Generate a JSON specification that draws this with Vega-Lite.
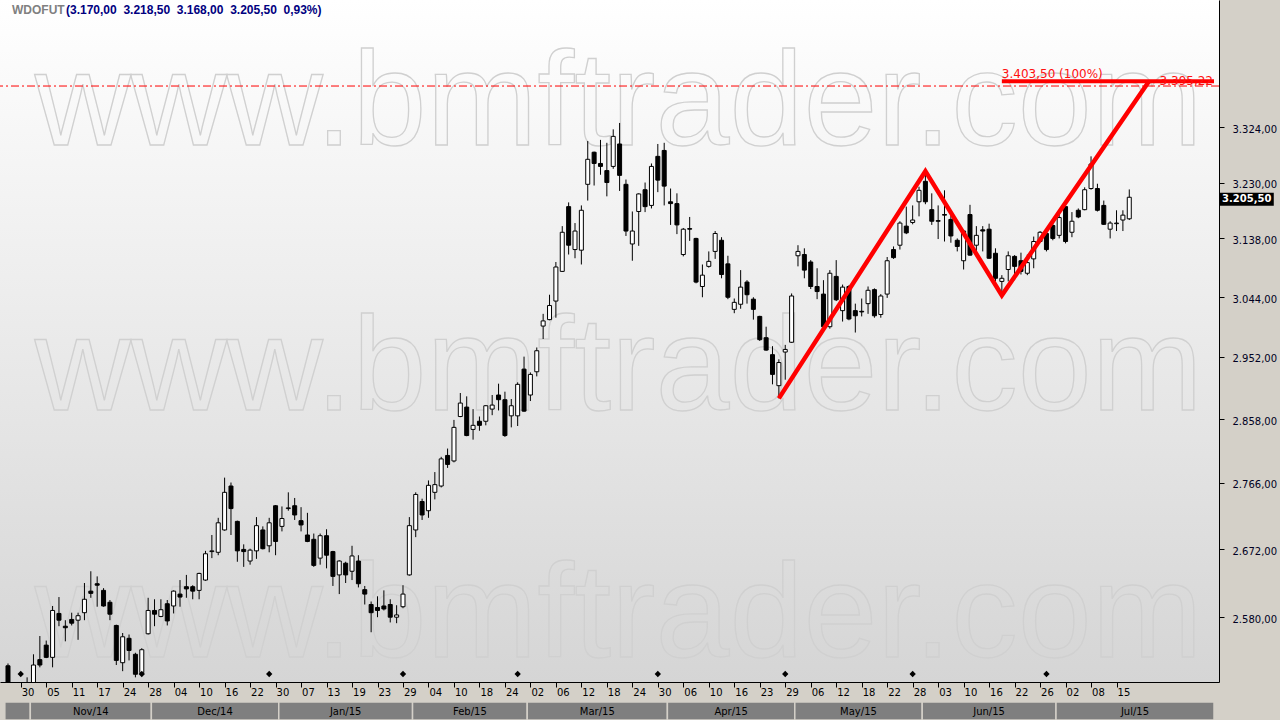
{
"$schema": "https://vega.github.io/schema/vega-lite/v6.json",
"width": 1219, "height": 682,
"autosize": {"type": "none"},
"padding": {"left": 0, "top": 0, "right": 61, "bottom": 38},
"background": "#d4d0c8",
"config": {"view": {"stroke": null}, "locale": {"number": {"decimal": ",", "thousands": ".", "grouping": [3], "currency": ["R$", ""]}}},
"resolve": {"axis": {"x": "independent", "y": "independent"}},
"datasets": {
"candles": [
{"i":0,"d":"2014-10-28","o":2516,"h":2519,"l":2478,"c":2485},
{"i":1,"d":"2014-10-29","o":2480,"h":2488,"l":2455,"c":2462},
{"i":2,"d":"2014-10-30","o":2462,"h":2475,"l":2440,"c":2452,"ev":1},
{"i":3,"d":"2014-10-31","o":2460,"h":2501,"l":2455,"c":2488},
{"i":4,"d":"2014-11-03","o":2488,"h":2531,"l":2482,"c":2517},
{"i":5,"d":"2014-11-04","o":2524,"h":2555,"l":2514,"c":2517},
{"i":6,"d":"2014-11-05","o":2543,"h":2549,"l":2526,"c":2527},
{"i":7,"d":"2014-11-06","o":2527,"h":2595,"l":2514,"c":2589},
{"i":8,"d":"2014-11-07","o":2585,"h":2607,"l":2568,"c":2576},
{"i":9,"d":"2014-11-10","o":2568,"h":2576,"l":2548,"c":2566},
{"i":10,"d":"2014-11-11","o":2577,"h":2586,"l":2569,"c":2572},
{"i":11,"d":"2014-11-12","o":2576,"h":2586,"l":2550,"c":2582},
{"i":12,"d":"2014-11-13","o":2586,"h":2626,"l":2576,"c":2604},
{"i":13,"d":"2014-11-14","o":2615,"h":2642,"l":2606,"c":2612},
{"i":14,"d":"2014-11-17","o":2625,"h":2635,"l":2594,"c":2623},
{"i":15,"d":"2014-11-18","o":2616,"h":2619,"l":2594,"c":2595},
{"i":16,"d":"2014-11-19","o":2600,"h":2603,"l":2576,"c":2584},
{"i":17,"d":"2014-11-21","o":2569,"h":2570,"l":2517,"c":2523},
{"i":18,"d":"2014-11-24","o":2520,"h":2559,"l":2509,"c":2554},
{"i":19,"d":"2014-11-25","o":2552,"h":2557,"l":2523,"c":2536},
{"i":20,"d":"2014-11-26","o":2531,"h":2533,"l":2501,"c":2505},
{"i":21,"d":"2014-11-27","o":2507,"h":2539,"l":2503,"c":2537,"ev":1},
{"i":22,"d":"2014-11-28","o":2558,"h":2606,"l":2557,"c":2589},
{"i":23,"d":"2014-12-01","o":2589,"h":2604,"l":2568,"c":2584},
{"i":24,"d":"2014-12-02","o":2581,"h":2604,"l":2580,"c":2590},
{"i":25,"d":"2014-12-03","o":2598,"h":2603,"l":2569,"c":2575},
{"i":26,"d":"2014-12-04","o":2595,"h":2616,"l":2585,"c":2615},
{"i":27,"d":"2014-12-05","o":2611,"h":2630,"l":2594,"c":2607},
{"i":28,"d":"2014-12-08","o":2621,"h":2637,"l":2606,"c":2618},
{"i":29,"d":"2014-12-09","o":2621,"h":2623,"l":2604,"c":2615},
{"i":30,"d":"2014-12-10","o":2616,"h":2640,"l":2604,"c":2639},
{"i":31,"d":"2014-12-11","o":2630,"h":2670,"l":2629,"c":2666},
{"i":32,"d":"2014-12-12","o":2669,"h":2692,"l":2660,"c":2670},
{"i":33,"d":"2014-12-15","o":2668,"h":2716,"l":2664,"c":2709},
{"i":34,"d":"2014-12-16","o":2699,"h":2773,"l":2698,"c":2752},
{"i":35,"d":"2014-12-17","o":2761,"h":2766,"l":2692,"c":2729},
{"i":36,"d":"2014-12-18","o":2711,"h":2712,"l":2655,"c":2670},
{"i":37,"d":"2014-12-19","o":2672,"h":2679,"l":2648,"c":2669},
{"i":38,"d":"2014-12-22","o":2656,"h":2673,"l":2651,"c":2671},
{"i":39,"d":"2014-12-23","o":2670,"h":2717,"l":2659,"c":2705},
{"i":40,"d":"2014-12-26","o":2699,"h":2704,"l":2672,"c":2673},
{"i":41,"d":"2014-12-29","o":2677,"h":2716,"l":2668,"c":2709,"ev":1},
{"i":42,"d":"2014-12-30","o":2733,"h":2734,"l":2664,"c":2683},
{"i":43,"d":"2015-01-02","o":2704,"h":2732,"l":2697,"c":2715},
{"i":44,"d":"2015-01-05","o":2729,"h":2752,"l":2726,"c":2730},
{"i":45,"d":"2015-01-06","o":2733,"h":2744,"l":2713,"c":2720},
{"i":46,"d":"2015-01-07","o":2712,"h":2731,"l":2697,"c":2706},
{"i":47,"d":"2015-01-08","o":2692,"h":2723,"l":2682,"c":2683},
{"i":48,"d":"2015-01-09","o":2686,"h":2694,"l":2648,"c":2650},
{"i":49,"d":"2015-01-12","o":2660,"h":2694,"l":2651,"c":2691},
{"i":50,"d":"2015-01-13","o":2691,"h":2700,"l":2646,"c":2664},
{"i":51,"d":"2015-01-14","o":2669,"h":2670,"l":2622,"c":2635},
{"i":52,"d":"2015-01-15","o":2637,"h":2657,"l":2611,"c":2656},
{"i":53,"d":"2015-01-16","o":2653,"h":2655,"l":2626,"c":2637},
{"i":54,"d":"2015-01-19","o":2642,"h":2677,"l":2630,"c":2663},
{"i":55,"d":"2015-01-20","o":2656,"h":2664,"l":2620,"c":2625},
{"i":56,"d":"2015-01-21","o":2617,"h":2622,"l":2597,"c":2611},
{"i":57,"d":"2015-01-22","o":2597,"h":2601,"l":2560,"c":2586},
{"i":58,"d":"2015-01-23","o":2593,"h":2608,"l":2580,"c":2589},
{"i":59,"d":"2015-01-26","o":2595,"h":2616,"l":2589,"c":2591},
{"i":60,"d":"2015-01-27","o":2597,"h":2604,"l":2573,"c":2580},
{"i":61,"d":"2015-01-28","o":2580,"h":2596,"l":2572,"c":2583},
{"i":62,"d":"2015-01-29","o":2594,"h":2623,"l":2592,"c":2611,"ev":1},
{"i":63,"d":"2015-01-30","o":2637,"h":2717,"l":2636,"c":2705},
{"i":64,"d":"2015-02-02","o":2699,"h":2752,"l":2689,"c":2749},
{"i":65,"d":"2015-02-03","o":2739,"h":2743,"l":2713,"c":2720},
{"i":66,"d":"2015-02-04","o":2726,"h":2769,"l":2716,"c":2762},
{"i":67,"d":"2015-02-05","o":2752,"h":2781,"l":2742,"c":2763},
{"i":68,"d":"2015-02-06","o":2761,"h":2803,"l":2759,"c":2800},
{"i":69,"d":"2015-02-09","o":2805,"h":2815,"l":2787,"c":2792},
{"i":70,"d":"2015-02-10","o":2797,"h":2857,"l":2795,"c":2846},
{"i":71,"d":"2015-02-11","o":2862,"h":2897,"l":2861,"c":2882},
{"i":72,"d":"2015-02-12","o":2876,"h":2892,"l":2833,"c":2834},
{"i":73,"d":"2015-02-13","o":2843,"h":2873,"l":2828,"c":2849},
{"i":74,"d":"2015-02-18","o":2855,"h":2862,"l":2841,"c":2849},
{"i":75,"d":"2015-02-19","o":2855,"h":2879,"l":2849,"c":2878},
{"i":76,"d":"2015-02-20","o":2873,"h":2894,"l":2864,"c":2879},
{"i":77,"d":"2015-02-23","o":2894,"h":2911,"l":2871,"c":2887},
{"i":78,"d":"2015-02-24","o":2887,"h":2899,"l":2832,"c":2834},
{"i":79,"d":"2015-02-25","o":2863,"h":2888,"l":2846,"c":2878},
{"i":80,"d":"2015-02-26","o":2863,"h":2913,"l":2848,"c":2910,"ev":1},
{"i":81,"d":"2015-02-27","o":2933,"h":2952,"l":2869,"c":2870},
{"i":82,"d":"2015-03-02","o":2894,"h":2928,"l":2885,"c":2925},
{"i":83,"d":"2015-03-03","o":2929,"h":2966,"l":2922,"c":2961},
{"i":84,"d":"2015-03-04","o":2999,"h":3018,"l":2979,"c":3007},
{"i":85,"d":"2015-03-05","o":3009,"h":3048,"l":3008,"c":3031},
{"i":86,"d":"2015-03-06","o":3038,"h":3100,"l":3012,"c":3092},
{"i":87,"d":"2015-03-09","o":3085,"h":3158,"l":3084,"c":3148},
{"i":88,"d":"2015-03-10","o":3190,"h":3197,"l":3112,"c":3127},
{"i":89,"d":"2015-03-11","o":3120,"h":3163,"l":3106,"c":3150},
{"i":90,"d":"2015-03-12","o":3119,"h":3192,"l":3096,"c":3184},
{"i":91,"d":"2015-03-13","o":3227,"h":3300,"l":3200,"c":3269},
{"i":92,"d":"2015-03-16","o":3281,"h":3282,"l":3225,"c":3262},
{"i":93,"d":"2015-03-17","o":3262,"h":3302,"l":3243,"c":3257},
{"i":94,"d":"2015-03-18","o":3250,"h":3297,"l":3207,"c":3230},
{"i":95,"d":"2015-03-19","o":3257,"h":3320,"l":3253,"c":3308},
{"i":96,"d":"2015-03-20","o":3295,"h":3331,"l":3216,"c":3242},
{"i":97,"d":"2015-03-23","o":3227,"h":3235,"l":3142,"c":3150},
{"i":98,"d":"2015-03-24","o":3129,"h":3182,"l":3102,"c":3150},
{"i":99,"d":"2015-03-25","o":3182,"h":3212,"l":3126,"c":3211},
{"i":100,"d":"2015-03-26","o":3218,"h":3230,"l":3181,"c":3190},
{"i":101,"d":"2015-03-27","o":3192,"h":3262,"l":3187,"c":3257},
{"i":102,"d":"2015-03-30","o":3274,"h":3295,"l":3214,"c":3234,"ev":1},
{"i":103,"d":"2015-03-31","o":3284,"h":3297,"l":3192,"c":3224},
{"i":104,"d":"2015-04-01","o":3198,"h":3220,"l":3160,"c":3195},
{"i":105,"d":"2015-04-02","o":3195,"h":3212,"l":3145,"c":3160},
{"i":106,"d":"2015-04-06","o":3112,"h":3155,"l":3109,"c":3153},
{"i":107,"d":"2015-04-07","o":3154,"h":3173,"l":3134,"c":3153},
{"i":108,"d":"2015-04-08","o":3138,"h":3139,"l":3066,"c":3068},
{"i":109,"d":"2015-04-09","o":3061,"h":3096,"l":3044,"c":3079},
{"i":110,"d":"2015-04-10","o":3093,"h":3117,"l":3091,"c":3101},
{"i":111,"d":"2015-04-13","o":3117,"h":3150,"l":3105,"c":3146},
{"i":112,"d":"2015-04-14","o":3135,"h":3140,"l":3074,"c":3080},
{"i":113,"d":"2015-04-15","o":3097,"h":3110,"l":3041,"c":3044},
{"i":114,"d":"2015-04-16","o":3025,"h":3042,"l":3019,"c":3036},
{"i":115,"d":"2015-04-17","o":3033,"h":3087,"l":3026,"c":3060},
{"i":116,"d":"2015-04-20","o":3068,"h":3071,"l":3034,"c":3048},
{"i":117,"d":"2015-04-22","o":3041,"h":3044,"l":3009,"c":3025},
{"i":118,"d":"2015-04-23","o":3014,"h":3015,"l":2976,"c":2978},
{"i":119,"d":"2015-04-24","o":2981,"h":2998,"l":2961,"c":2962},
{"i":120,"d":"2015-04-27","o":2955,"h":2968,"l":2910,"c":2925},
{"i":121,"d":"2015-04-28","o":2908,"h":2948,"l":2889,"c":2943},
{"i":122,"d":"2015-04-29","o":2959,"h":2970,"l":2917,"c":2963,"ev":1},
{"i":123,"d":"2015-04-30","o":2974,"h":3050,"l":2973,"c":3046},
{"i":124,"d":"2015-05-04","o":3110,"h":3127,"l":3093,"c":3117},
{"i":125,"d":"2015-05-05","o":3112,"h":3122,"l":3074,"c":3087},
{"i":126,"d":"2015-05-06","o":3100,"h":3103,"l":3057,"c":3061},
{"i":127,"d":"2015-05-07","o":3061,"h":3090,"l":3041,"c":3053},
{"i":128,"d":"2015-05-08","o":3049,"h":3071,"l":2997,"c":2998},
{"i":129,"d":"2015-05-11","o":2998,"h":3087,"l":2995,"c":3082},
{"i":130,"d":"2015-05-12","o":3077,"h":3103,"l":3038,"c":3040},
{"i":131,"d":"2015-05-13","o":3023,"h":3064,"l":3006,"c":3060},
{"i":132,"d":"2015-05-14","o":3061,"h":3063,"l":3008,"c":3010},
{"i":133,"d":"2015-05-15","o":3023,"h":3034,"l":2989,"c":3015},
{"i":134,"d":"2015-05-18","o":3022,"h":3042,"l":3014,"c":3021},
{"i":135,"d":"2015-05-19","o":3034,"h":3061,"l":3018,"c":3055},
{"i":136,"d":"2015-05-20","o":3056,"h":3058,"l":3012,"c":3015},
{"i":137,"d":"2015-05-21","o":3017,"h":3049,"l":3012,"c":3046},
{"i":138,"d":"2015-05-22","o":3049,"h":3108,"l":3043,"c":3102},
{"i":139,"d":"2015-05-25","o":3120,"h":3125,"l":3105,"c":3107},
{"i":140,"d":"2015-05-26","o":3127,"h":3166,"l":3120,"c":3163},
{"i":141,"d":"2015-05-27","o":3158,"h":3190,"l":3145,"c":3147},
{"i":142,"d":"2015-05-28","o":3164,"h":3192,"l":3161,"c":3168,"ev":1},
{"i":143,"d":"2015-05-29","o":3198,"h":3223,"l":3174,"c":3217},
{"i":144,"d":"2015-06-01","o":3232,"h":3249,"l":3194,"c":3198},
{"i":145,"d":"2015-06-02","o":3185,"h":3212,"l":3160,"c":3166},
{"i":146,"d":"2015-06-03","o":3167,"h":3192,"l":3137,"c":3166},
{"i":147,"d":"2015-06-05","o":3177,"h":3217,"l":3133,"c":3176},
{"i":148,"d":"2015-06-08","o":3169,"h":3176,"l":3131,"c":3142},
{"i":149,"d":"2015-06-09","o":3135,"h":3138,"l":3117,"c":3125},
{"i":150,"d":"2015-06-10","o":3102,"h":3152,"l":3088,"c":3150},
{"i":151,"d":"2015-06-11","o":3177,"h":3193,"l":3110,"c":3111},
{"i":152,"d":"2015-06-12","o":3127,"h":3158,"l":3114,"c":3143},
{"i":153,"d":"2015-06-15","o":3152,"h":3158,"l":3117,"c":3150},
{"i":154,"d":"2015-06-16","o":3153,"h":3162,"l":3105,"c":3106},
{"i":155,"d":"2015-06-17","o":3114,"h":3122,"l":3069,"c":3074},
{"i":156,"d":"2015-06-18","o":3069,"h":3079,"l":3047,"c":3074},
{"i":157,"d":"2015-06-19","o":3088,"h":3117,"l":3069,"c":3110},
{"i":158,"d":"2015-06-22","o":3109,"h":3111,"l":3071,"c":3093},
{"i":159,"d":"2015-06-23","o":3102,"h":3115,"l":3080,"c":3085},
{"i":160,"d":"2015-06-24","o":3082,"h":3112,"l":3079,"c":3099},
{"i":161,"d":"2015-06-25","o":3105,"h":3141,"l":3090,"c":3133},
{"i":162,"d":"2015-06-26","o":3133,"h":3150,"l":3132,"c":3148},
{"i":163,"d":"2015-06-29","o":3146,"h":3150,"l":3117,"c":3120,"ev":1},
{"i":164,"d":"2015-06-30","o":3159,"h":3166,"l":3135,"c":3138},
{"i":165,"d":"2015-07-01","o":3143,"h":3184,"l":3138,"c":3172},
{"i":166,"d":"2015-07-02","o":3190,"h":3192,"l":3130,"c":3133},
{"i":167,"d":"2015-07-03","o":3148,"h":3181,"l":3140,"c":3166},
{"i":168,"d":"2015-07-06","o":3184,"h":3187,"l":3171,"c":3173},
{"i":169,"d":"2015-07-07","o":3185,"h":3222,"l":3184,"c":3218},
{"i":170,"d":"2015-07-08","o":3220,"h":3274,"l":3218,"c":3261},
{"i":171,"d":"2015-07-10","o":3220,"h":3228,"l":3182,"c":3184},
{"i":172,"d":"2015-07-13","o":3192,"h":3200,"l":3160,"c":3161},
{"i":173,"d":"2015-07-14","o":3153,"h":3166,"l":3138,"c":3163},
{"i":174,"d":"2015-07-15","o":3162,"h":3184,"l":3150,"c":3163},
{"i":175,"d":"2015-07-16","o":3168,"h":3184,"l":3150,"c":3176},
{"i":176,"d":"2015-07-17","o":3170,"h":3218.5,"l":3168,"c":3205.5}
],
"pattern": [
{"k":0,"i":121,"p":2889},
{"k":1,"i":144,"p":3249},
{"k":2,"i":156,"p":3047},
{"k":3,"i":179.1,"p":3403.5}
]
},
"layer": [
{"data": {"values": [{}]},
 "mark": {"type": "rect", "color": {"gradient": "linear", "x1": 0, "y1": 0, "x2": 0, "y2": 1, "stops": [{"offset": 0, "color": "#ffffff"}, {"offset": 1, "color": "#d5d5d5"}]}},
 "encoding": {}},
{"data": {"values": [{"t": "www.bmftrader.com"}]},
 "mark": {"type": "text", "align": "left", "baseline": "alphabetic", "font": "Liberation Sans", "fontSize": 133, "fill": "transparent", "stroke": "#d0d0d0", "strokeWidth": 1.3},
 "encoding": {"x": {"datum": 4.2, "scale": {"domain": [-0.47, 189.3], "nice": false, "zero": false}, "axis": null},
  "y": {"datum": 3293.5, "scale": {"type": "log", "domain": [2495, 3549.6], "nice": false}, "axis": null},
  "text": {"field": "t"}}},
{"data": {"values": [{"t": "www.bmftrader.com"}]},
 "mark": {"type": "text", "align": "left", "baseline": "alphabetic", "font": "Liberation Sans", "fontSize": 133, "fill": "transparent", "stroke": "#d0d0d0", "strokeWidth": 1.3},
 "encoding": {"x": {"datum": 4.2, "scale": {"domain": [-0.47, 189.3], "nice": false, "zero": false}, "axis": null},
  "y": {"datum": 2871.7, "scale": {"type": "log", "domain": [2495, 3549.6], "nice": false}, "axis": null},
  "text": {"field": "t"}}},
{"data": {"values": [{"t": "www.bmftrader.com"}]},
 "mark": {"type": "text", "align": "left", "baseline": "alphabetic", "font": "Liberation Sans", "fontSize": 133, "fill": "transparent", "stroke": "#d0d0d0", "strokeWidth": 1.3},
 "encoding": {"x": {"datum": 4.2, "scale": {"domain": [-0.47, 189.3], "nice": false, "zero": false}, "axis": null},
  "y": {"datum": 2528, "scale": {"type": "log", "domain": [2495, 3549.6], "nice": false}, "axis": null},
  "text": {"field": "t"}}},
{"data": {"values": [{"p": 3395.22}]},
 "mark": {"type": "rule", "color": "#ff0000", "strokeWidth": 1, "strokeDash": [8, 3, 2, 3]},
 "encoding": {"y": {"field": "p", "type": "quantitative", "scale": {"type": "log", "domain": [2495, 3549.6], "nice": false}, "axis": null}}},
{"data": {"name": "candles"},
 "mark": {"type": "rule", "color": "#000000", "strokeWidth": 1, "clip": true},
 "encoding": {
  "x": {"field": "i", "type": "quantitative", "scale": {"domain": [-0.47, 189.3], "nice": false, "zero": false},
   "axis": {"orient": "bottom", "zindex": 1, "values": [2,6,10,14,18,22,26,30,34,38,42,46,50,54,58,62,66,70,74,78,82,86,90,94,98,102,106,110,114,118,122,126,130,134,138,142,146,150,154,158,162,166,170,174], "labels": false, "title": null, "grid": false, "domainColor": "#000000", "tickColor": "#000000", "tickSize": 5, "domainWidth": 1}},
  "y": {"field": "l", "type": "quantitative", "scale": {"type": "log", "domain": [2495, 3549.6], "nice": false},
   "axis": {"orient": "right", "zindex": 1, "values": [2394, 2486, 2580, 2672, 2766, 2858, 2952, 3044, 3138, 3230, 3324], "format": ",.2f", "title": null, "grid": false, "domainColor": "#000000", "tickColor": "#000000", "tickSize": 5, "labelPadding": 8, "labelFont": "DejaVu Sans", "labelFontSize": 10, "labelColor": "#000022", "labelOverlap": false, "labelBaseline": "middle",
    "labelOffset": {"condition": [{"test": "datum.value == 2394", "value": -84}, {"test": "datum.value == 2486", "value": -22}], "value": 2},
    "tickOpacity": {"condition": {"test": "datum.value < 2495", "value": 0}, "value": 1}}},
  "y2": {"field": "h"}}},
{"data": {"name": "candles"},
 "mark": {"type": "bar", "width": 4, "stroke": "#000000", "strokeWidth": 1, "clip": true},
 "encoding": {
  "x": {"field": "i", "type": "quantitative", "scale": {"domain": [-0.47, 189.3], "nice": false, "zero": false}, "axis": null},
  "y": {"field": "o", "type": "quantitative", "scale": {"type": "log", "domain": [2495, 3549.6], "nice": false}, "axis": null},
  "y2": {"field": "c"},
  "fill": {"condition": {"test": "datum.c > datum.o", "value": "#ffffff"}, "value": "#000000"}}},
{"data": {"name": "candles"},
 "transform": [{"filter": "datum.ev == 1"}],
 "mark": {"type": "point", "shape": "diamond", "filled": true, "size": 40, "color": "#000000", "opacity": 1, "y": {"expr": "height - 8"}},
 "encoding": {"x": {"field": "i", "type": "quantitative", "scale": {"domain": [-0.47, 189.3], "nice": false, "zero": false}, "axis": null}}},
{"data": {"name": "pattern"},
 "mark": {"type": "line", "color": "#ff0000", "strokeWidth": 4.5, "strokeJoin": "miter"},
 "encoding": {
  "x": {"field": "i", "type": "quantitative", "scale": {"domain": [-0.47, 189.3], "nice": false, "zero": false}, "axis": null},
  "y": {"field": "p", "type": "quantitative", "scale": {"type": "log", "domain": [2495, 3549.6], "nice": false}, "axis": null},
  "order": {"field": "k"}}},
{"data": {"values": [{"a": 156, "p": 3403.5, "t": "3.403,50 (100%)"}]},
 "mark": {"type": "rule", "color": "#ff0000", "strokeWidth": 4},
 "encoding": {
  "x": {"field": "a", "type": "quantitative", "scale": {"domain": [-0.47, 189.3], "nice": false, "zero": false}, "axis": null},
  "x2": {"datum": 189.3},
  "y": {"field": "p", "type": "quantitative", "scale": {"type": "log", "domain": [2495, 3549.6], "nice": false}, "axis": null}}},
{"data": {"values": [{"a": 156, "p": 3403.5, "t": "3.403,50 (100%)"}]},
 "mark": {"type": "text", "align": "left", "baseline": "alphabetic", "dy": -3, "dx": 0, "color": "#ff1010", "font": "DejaVu Sans", "fontSize": 12},
 "encoding": {
  "x": {"field": "a", "type": "quantitative", "scale": {"domain": [-0.47, 189.3], "nice": false, "zero": false}, "axis": null},
  "y": {"field": "p", "type": "quantitative", "scale": {"type": "log", "domain": [2495, 3549.6], "nice": false}, "axis": null},
  "text": {"field": "t"}}},
{"data": {"values": [{"p": 3395.22}]},
 "mark": {"type": "text", "align": "right", "baseline": "alphabetic", "dy": -1, "dx": -1, "color": "#ff1010", "font": "DejaVu Sans", "fontSize": 12},
 "encoding": {
  "x": {"datum": 189.3, "scale": {"domain": [-0.47, 189.3], "nice": false, "zero": false}, "axis": null},
  "y": {"field": "p", "type": "quantitative", "scale": {"type": "log", "domain": [2495, 3549.6], "nice": false}, "axis": null},
  "text": {"field": "p", "type": "quantitative", "format": ",.2f"}}},
{"data": {"values": [{"t": "WDOFUT"}]},
 "mark": {"type": "text", "align": "left", "baseline": "middle", "dx": 7, "dy": 10, "color": "#808080", "font": "Liberation Sans", "fontSize": 12, "fontWeight": "bold"},
 "encoding": {
  "x": {"datum": -0.47, "scale": {"domain": [-0.47, 189.3], "nice": false, "zero": false}, "axis": null},
  "y": {"datum": 3549.6, "scale": {"type": "log", "domain": [2495, 3549.6], "nice": false}, "axis": null},
  "text": {"field": "t"}}},
{"data": {"values": [{"t": "(3.170,00\u00a0 3.218,50\u00a0 3.168,00\u00a0 3.205,50\u00a0 0,93%)"}]},
 "mark": {"type": "text", "align": "left", "baseline": "middle", "dx": 61, "dy": 10, "color": "#000080", "font": "Liberation Sans", "fontSize": 12, "fontWeight": "bold"},
 "encoding": {
  "x": {"datum": -0.47, "scale": {"domain": [-0.47, 189.3], "nice": false, "zero": false}, "axis": null},
  "y": {"datum": 3549.6, "scale": {"type": "log", "domain": [2495, 3549.6], "nice": false}, "axis": null},
  "text": {"field": "t"}}},
{"data": {"name": "candles"},
 "transform": [{"filter": "datum.i % 4 == 2"}, {"calculate": "substring(datum.d, 8, 10)", "as": "day"}],
 "mark": {"type": "text", "align": "left", "baseline": "middle", "dx": 1, "y": {"expr": "height + 11"}, "font": "DejaVu Sans", "fontSize": 10, "color": "#000000"},
 "encoding": {
  "x": {"field": "i", "type": "quantitative", "scale": {"domain": [-0.47, 189.3], "nice": false, "zero": false}, "axis": null},
  "text": {"field": "day"}}},
{"data": {"name": "candles"},
 "transform": [
  {"calculate": "utcFormat(toDate(datum.d), '%b/%y')", "as": "m"},
  {"aggregate": [{"op": "min", "field": "i", "as": "f"}, {"op": "max", "field": "i", "as": "t"}], "groupby": ["m"]},
  {"joinaggregate": [{"op": "max", "field": "t", "as": "tmax"}]},
  {"calculate": "datum.f - 0.5", "as": "x1"},
  {"calculate": "datum.t == datum.tmax ? 189.3 : datum.t + 0.5", "as": "x2"}],
 "mark": {"type": "rect", "fill": "#7f7f7f", "stroke": "#d4d0c8", "strokeWidth": 1.5, "y": {"expr": "height + 20"}, "y2": {"expr": "height + 38"}},
 "encoding": {
  "x": {"field": "x1", "type": "quantitative", "scale": {"domain": [-0.47, 189.3], "nice": false, "zero": false}, "axis": null},
  "x2": {"field": "x2"}}},
{"data": {"name": "candles"},
 "transform": [
  {"calculate": "utcFormat(toDate(datum.d), '%b/%y')", "as": "m"},
  {"aggregate": [{"op": "min", "field": "i", "as": "f"}, {"op": "max", "field": "i", "as": "t"}], "groupby": ["m"]},
  {"joinaggregate": [{"op": "max", "field": "t", "as": "tmax"}]},
  {"filter": "datum.t - datum.f >= 5"},
  {"calculate": "(datum.f - 0.5 + (datum.t == datum.tmax ? 189.3 : datum.t + 0.5)) / 2", "as": "xm"}],
 "mark": {"type": "text", "align": "center", "baseline": "middle", "y": {"expr": "height + 30"}, "font": "DejaVu Sans", "fontSize": 10, "color": "#000000"},
 "encoding": {
  "x": {"field": "xm", "type": "quantitative", "scale": {"domain": [-0.47, 189.3], "nice": false, "zero": false}, "axis": null},
  "text": {"field": "m"}}},
{"data": {"name": "candles"},
 "transform": [{"joinaggregate": [{"op": "max", "field": "i", "as": "imax"}]}, {"filter": "datum.i == datum.imax"}],
 "mark": {"type": "point", "shape": "M-1,-0.24L1,-0.24L1,0.24L-1,0.24Z", "size": 2916, "filled": true, "color": "#000000", "opacity": 1, "xOffset": 117.5, "yOffset": 2},
 "encoding": {
  "x": {"field": "i", "type": "quantitative", "scale": {"domain": [-0.47, 189.3], "nice": false, "zero": false}, "axis": null},
  "y": {"field": "c", "type": "quantitative", "scale": {"type": "log", "domain": [2495, 3549.6], "nice": false}, "axis": null}}},
{"data": {"name": "candles"},
 "transform": [{"joinaggregate": [{"op": "max", "field": "i", "as": "imax"}]}, {"filter": "datum.i == datum.imax"}],
 "mark": {"type": "text", "align": "center", "baseline": "middle", "dx": 117.5, "dy": 2, "color": "#ffffff", "font": "DejaVu Sans", "fontSize": 10, "fontWeight": "bold"},
 "encoding": {
  "x": {"field": "i", "type": "quantitative", "scale": {"domain": [-0.47, 189.3], "nice": false, "zero": false}, "axis": null},
  "y": {"field": "c", "type": "quantitative", "scale": {"type": "log", "domain": [2495, 3549.6], "nice": false}, "axis": null},
  "text": {"field": "c", "type": "quantitative", "format": ",.2f"}}}
]
}
